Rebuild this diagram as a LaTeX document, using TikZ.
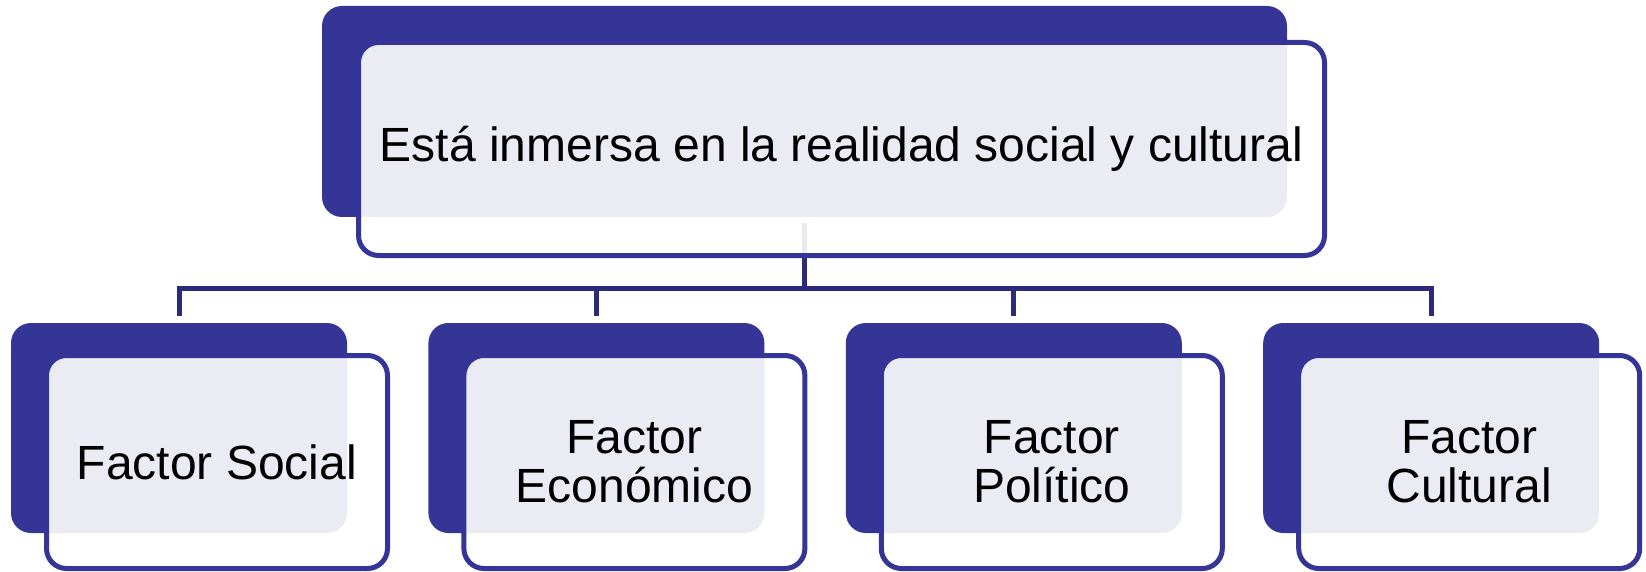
\documentclass[tikz,border=0pt]{standalone}
\usepackage{fontspec}
\setmainfont{Liberation Sans}
\usepackage{tikz}
\usetikzlibrary{positioning}
\definecolor{boxblue}{RGB}{53,53,152}
\definecolor{linkblue}{RGB}{44,42,122}

\begin{document}
\begin{tikzpicture}[x=1pt,y=-1pt,on grid,
    backbox/.style={rectangle,rounded corners=20pt,fill=boxblue,draw=none,inner sep=0pt},
    frontbox/.style={rectangle,rounded corners=20pt,draw=boxblue,line width=5pt,fill=white,
      fill opacity=0.9,text opacity=1,inner sep=0pt,align=center,
      font=\fontsize{48}{49}\selectfont,minimum width=341pt,minimum height=213pt},
    link/.style={draw=linkblue,line width=5pt}]
   \useasboundingbox (0,0) rectangle (1646,572);
   \node[backbox,minimum width=965pt,minimum height=211pt] (topback) at (804.5,111.5) {};
   \foreach \i in {0,...,3}
     \node[backbox,minimum width=336pt,minimum height=210pt] (back\i) at (179+417.4*\i,428) {};
   \foreach \i in {0,...,3}
     \draw[link,shorten <=6pt,shorten >=7pt] (topback.south) -- ++(0,71) -| (back\i.north);
   \node[frontbox,minimum width=966pt] (top) [below right=37.5pt and 37pt of topback]
     {Está inmersa en la realidad social y cultural};
   \foreach \i/\txt in {0/{Factor Social},1/{Factor\\Económico},2/{Factor\\Político},3/{Factor\\Cultural}}
     \node[frontbox] (front\i) [below right=34pt and 38pt of back\i] {\txt};
\end{tikzpicture}
\end{document}
